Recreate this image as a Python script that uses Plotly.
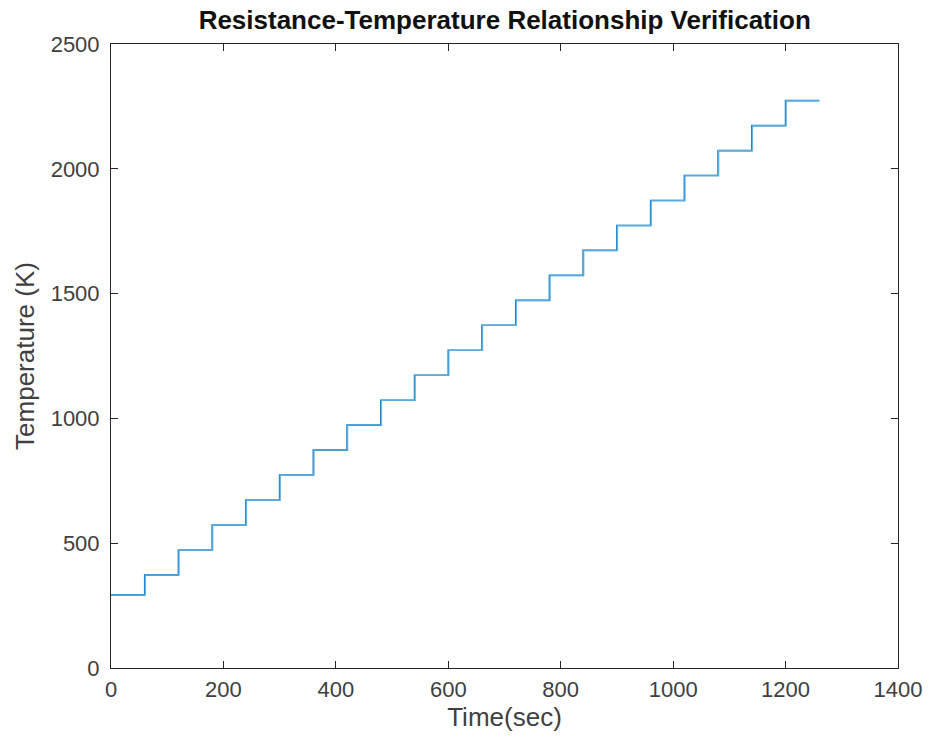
import plotly.graph_objects as go

# Step times (s) and temperature levels (K)
time_s = [0, 60, 120, 180, 240, 300, 360, 420, 480, 540, 600, 660, 720, 780, 840,
          900, 960, 1020, 1080, 1140, 1200, 1260]
temp_set = [293, 373, 473, 573, 673, 773, 873, 973, 1073, 1173, 1273, 1373, 1473,
            1573, 1673, 1773, 1873, 1973, 2073, 2173, 2273, 2273]
time_meas = [0, 61, 121, 181, 241, 301, 361, 421, 481, 541, 601, 661, 721, 781, 841,
             901, 961, 1021, 1081, 1141, 1201, 1260]
temp_meas = [293, 373, 473, 573, 673, 773, 873, 973, 1073, 1173, 1273, 1373, 1473,
             1573, 1673, 1773, 1873, 1973, 2073, 2173, 2273, 2273]

FONT = "Liberation Sans, Arial, Helvetica"

fig = go.Figure()
fig.add_trace(go.Scatter(x=time_s, y=temp_set, mode="lines", line_shape="hv",
                         line=dict(color="#0072BD", width=1.6), showlegend=False))
fig.add_trace(go.Scatter(x=time_meas, y=temp_meas, mode="lines", line_shape="hv",
                         line=dict(color="#6BB5E6", width=1.4), opacity=0.85,
                         showlegend=False))

axis_common = dict(showline=True, linecolor="#262626", linewidth=1, mirror="allticks",
                   ticks="inside", ticklen=7, tickcolor="#262626", showgrid=False,
                   zeroline=False, automargin=False,
                   tickfont=dict(family=FONT, size=22, color="#404040"))

fig.update_layout(
    width=930, height=746,
    margin=dict(l=111, r=32, t=44, b=78),
    paper_bgcolor="white", plot_bgcolor="white",
    title=dict(text="<b>Resistance-Temperature Relationship Verification</b>",
               x=0.5427, xanchor="center", y=0.973, yanchor="middle",
               font=dict(family=FONT, size=26, color="#111111")),
    xaxis=dict(range=[0, 1400], tickvals=[0, 200, 400, 600, 800, 1000, 1200, 1400],
               ticklabelstandoff=2,
               title=dict(text="Time(sec)", standoff=4,
                          font=dict(family=FONT, size=26, color="#404040")),
               **axis_common),
    yaxis=dict(range=[0, 2500], tickvals=[0, 500, 1000, 1500, 2000, 2500],
               ticklabelstandoff=6,
               title=dict(text="Temperature (K)", standoff=8,
                          font=dict(family=FONT, size=26, color="#404040")),
               **axis_common),
)

fig.write_html("out.html")
